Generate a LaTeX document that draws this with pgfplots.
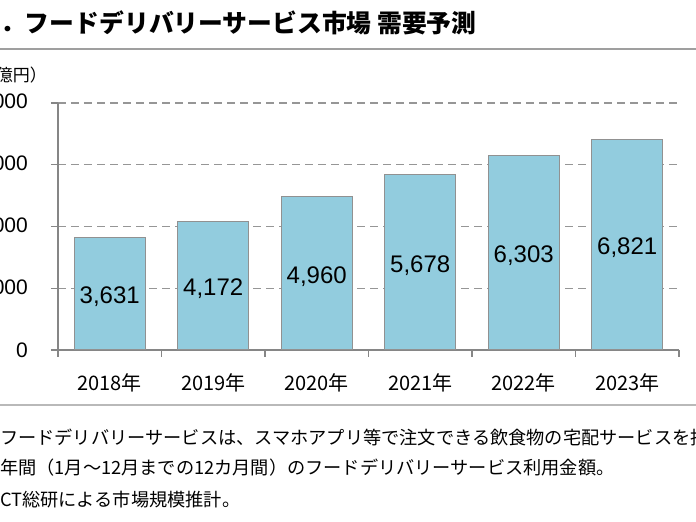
\documentclass[border=0pt]{standalone}
\usepackage{fontspec}
\usepackage{pgfplots}
\usepackage{pgfplotstable}
\pgfplotsset{compat=1.18}
\setmainfont{Liberation Sans}
\newfontfamily\jp{Noto Sans CJK JP}

\definecolor{barblue}{RGB}{146,204,222}
\definecolor{edgegray}{RGB}{145,145,145}
\definecolor{axisgray}{RGB}{134,134,134}
\definecolor{gridgray}{RGB}{150,150,150}

% food delivery market, 100 million yen
\pgfplotstableread{
x v
1 3631
2 4172
3 4960
4 5678
5 6303
6 6821
}\market

\begin{document}
\begin{tikzpicture}[x=1pt,y=1pt]
\path[use as bounding box] (0,0) rectangle (696,522);
\clip (0,0) rectangle (696,522);

% heading
\node[anchor=west, inner sep=0pt, font=\jp\bfseries\fontsize{24.8}{24.8}\selectfont]
  at (0,499) {．フードデリバリーサービス市場 需要予測};
\draw[line width=2pt, color=gray!75] (0,473) -- (696,473);

% unit
\node[anchor=east, inner sep=0pt, font=\jp\fontsize{17}{17}\selectfont]
  at (47,447) {（億円）};

\begin{axis}[
  at={(58pt,172pt)}, anchor=south west,
  scale only axis, width=621pt, height=247pt,
  xmin=0.5, xmax=6.5, ymin=0, ymax=8000,
  axis lines*=left,
  axis line style={draw=axisgray, line width=1.3pt},
  xtick={1,...,6},
  xticklabels={2018年,2019年,2020年,2021年,2022年,2023年},
  minor xtick={0.5,1.5,...,6.5},
  major x tick style={draw=none},
  ytick={0,2000,4000,6000,8000},
  tick align=outside, major tick length=7pt, minor tick length=7pt,
  tick style={draw=axisgray, line width=1.3pt},
  ymajorgrids,
  grid style={draw=gridgray, line width=1.3pt, dash pattern=on 8pt off 5pt},
  scaled y ticks=false,
  yticklabel style={anchor=east, inner sep=0pt, xshift=-23pt,
    font=\fontsize{21}{21}\selectfont,
    /pgf/number format/.cd, fixed, precision=0, 1000 sep={,}, assume math mode=true},
  xticklabel style={anchor=center, inner sep=0pt, yshift=-26pt,
    font=\jp\fontsize{20}{20}\selectfont},
]
\addplot[ybar, bar width=71pt, fill=barblue, draw=edgegray, line width=1.2pt]
  table[x=x, y=v] {\market};
% value labels, set at mid-height of each bar
\addplot[only marks, mark=none,
  point meta=\thisrow{v},
  nodes near coords={\pgfmathprintnumber[fixed, precision=0, 1000 sep={,}, assume math mode=true]{\pgfplotspointmeta}},
  nodes near coords style={anchor=center, yshift=-3pt, font=\fontsize{24}{24}\selectfont, text=black}]
  table[x=x, y expr=\thisrow{v}/2] {\market};
\end{axis}

% notes
\draw[line width=2pt, color=gray!55] (0,117) -- (696,117);
\node[anchor=west, inner sep=0pt, font=\jp\fontsize{18.2}{18.2}\selectfont]
  at (0,85) {フードデリバリーサービスは、スマホアプリ等で注文できる飲食物の宅配サービスを指す。};
\node[anchor=west, inner sep=0pt, font=\jp\fontsize{18.2}{18.2}\selectfont]
  at (0,54) {年間（1月～12月までの12カ月間）のフードデリバリーサービス利用金額。};
\node[anchor=west, inner sep=0pt, font=\jp\fontsize{18.2}{18.2}\selectfont]
  at (0,22) {CT総研による市場規模推計。};
\end{tikzpicture}
\end{document}
